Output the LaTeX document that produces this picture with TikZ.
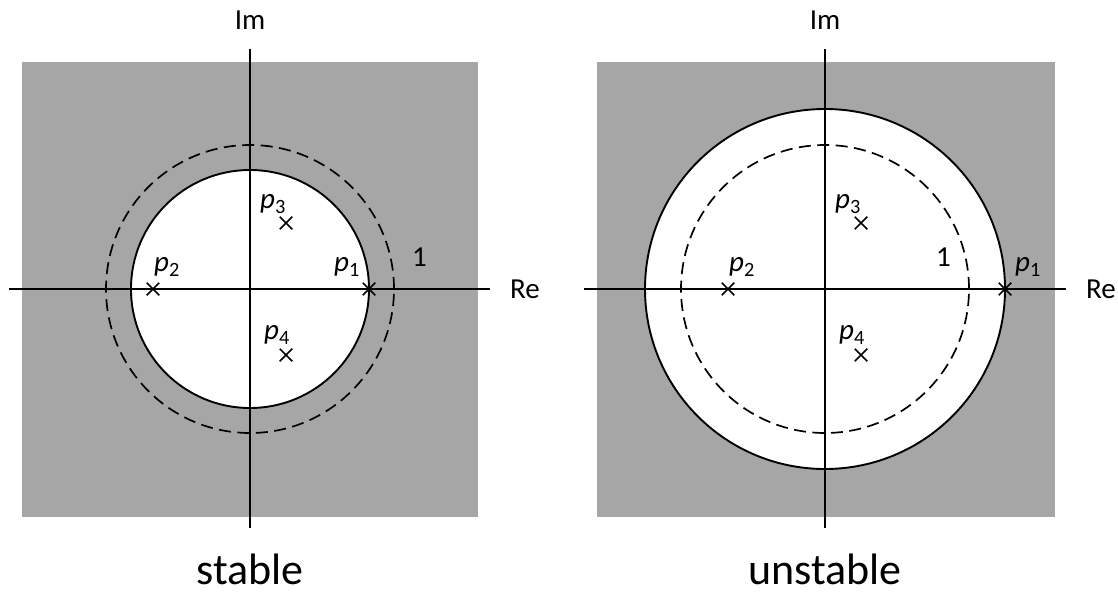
\documentclass[tikz,border=0pt]{standalone}
\usepackage{fontspec}
\setmainfont{Carlito}
\usetikzlibrary{positioning,shapes.misc}
\definecolor{regiongray}{RGB}{166,166,166}
\tikzset{
  axis/.style={line width=2pt},
  rim/.style={line width=1.9pt, fill=white},
  unitcircle/.style={line width=1.7pt, dash pattern=on 12pt off 6.5pt},
  pole/.style={cross out, draw, line width=1.5pt, minimum size=11pt, inner sep=0pt},
  lbl/.style={font=\fontsize{29}{34}\selectfont, inner sep=0pt},
  plabel/.style={on grid, lbl},
  caption/.style={font=\fontsize{44}{52}\selectfont, inner sep=0pt},
}
\newcommand{\pl}[1]{\textit{p}\textsubscript{#1}}

\begin{document}
\begin{tikzpicture}[x=1pt,y=-1pt]
  \useasboundingbox (0,0) rectangle (1118,594);

  % stable: poles inside the unit circle
  \begin{scope}
    \fill[regiongray] (22,62) rectangle (478,517);
    \coordinate (so) at (250,289);
    \draw[rim] (so) circle[radius=119pt];
    \draw[unitcircle] (so) circle[radius=144pt];
    \coordinate (swest) at (9,289);
    \coordinate (seast) at (490,289);
    \coordinate (snorth) at (250,49);
    \coordinate (ssouth) at (250,528);
    \coordinate (sone) at (394,289);
    \draw[axis] (swest) -- (seast);
    \draw[axis] (ssouth) -- (snorth);
    \node[lbl, right=20pt of seast] (sre) {Re};
    \node[lbl, above=19pt of snorth] (sim) {Im};
    \node[caption, below=26pt of ssouth] (scap) {stable};
    \node[plabel, above right=22pt and 18pt of sone] (sunit) {1};
    \node[pole] (sp1) at (369,289) {};
    \node[pole] (sp2) at (153,289) {};
    \node[pole] (sp3) at (286,223) {};
    \node[pole] (sp4) at (286,355) {};
    \node[plabel, above left=22pt and 22pt of sp1] (sp1l) {\pl{1}};
    \node[plabel, above right=22pt and 14pt of sp2] (sp2l) {\pl{2}};
    \node[plabel, above left=19pt and 13pt of sp3] (sp3l) {\pl{3}};
    \node[plabel, above left=20pt and 9pt of sp4] (sp4l) {\pl{4}};
  \end{scope}

  % unstable: p1 outside the unit circle
  \begin{scope}[shift={(575,0)}]
    \fill[regiongray] (22,62) rectangle (480,517);
    \coordinate (uo) at (250,289);
    \draw[rim] (uo) circle[radius=180pt];
    \draw[unitcircle] (uo) circle[radius=144pt];
    \coordinate (uwest) at (9,289);
    \coordinate (ueast) at (491,289);
    \coordinate (unorth) at (250,49);
    \coordinate (usouth) at (250,528);
    \coordinate (uone) at (394,289);
    \draw[axis] (uwest) -- (ueast);
    \draw[axis] (usouth) -- (unorth);
    \node[lbl, right=20pt of ueast] (ure) {Re};
    \node[lbl, above=19pt of unorth] (uim) {Im};
    \node[caption, below=26pt of usouth] (ucap) {unstable};
    \node[plabel, above left=22pt and 18pt of uone] (uunit) {1};
    \node[pole] (up1) at (430,289) {};
    \node[pole] (up2) at (153,289) {};
    \node[pole] (up3) at (286,223) {};
    \node[pole] (up4) at (286,355) {};
    \node[plabel, above right=22pt and 23pt of up1] (up1l) {\pl{1}};
    \node[plabel, above right=22pt and 14pt of up2] (up2l) {\pl{2}};
    \node[plabel, above left=19pt and 13pt of up3] (up3l) {\pl{3}};
    \node[plabel, above left=20pt and 9pt of up4] (up4l) {\pl{4}};
  \end{scope}
\end{tikzpicture}
\end{document}
